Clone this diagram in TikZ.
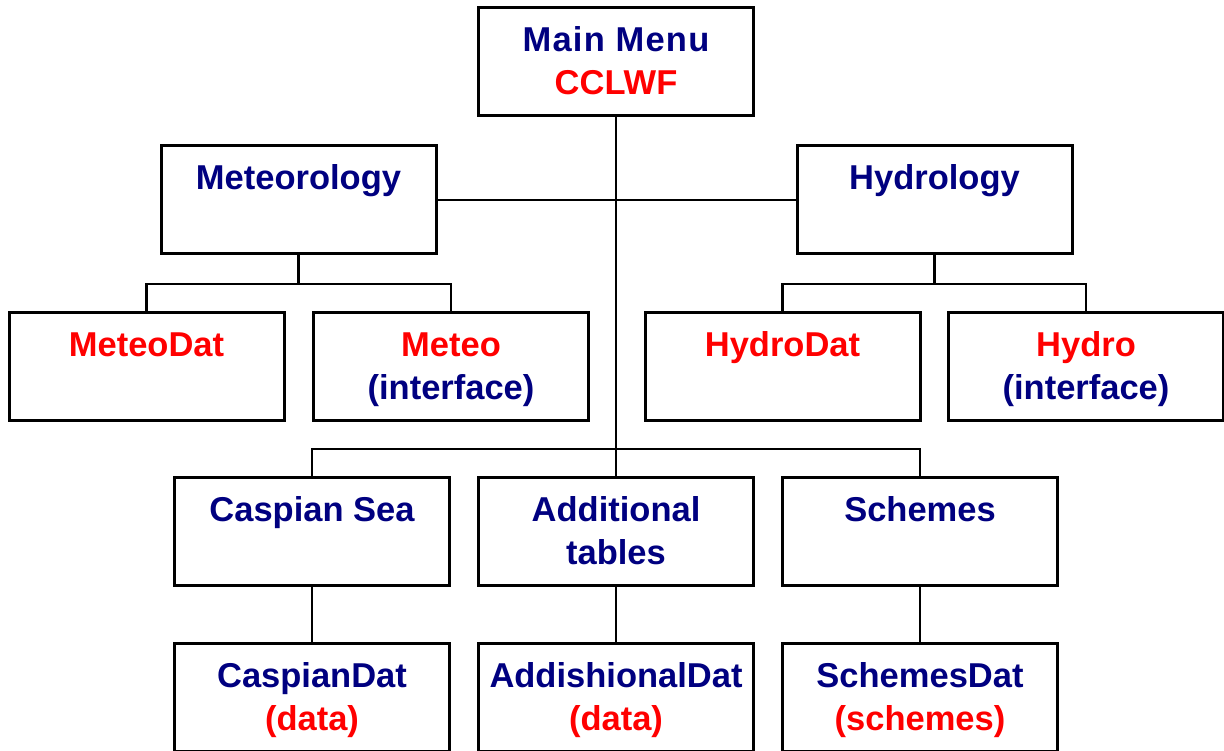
\documentclass[tikz,border=0pt]{standalone}
\usepackage{fontspec}
\setmainfont{Liberation Sans}
\definecolor{navyt}{RGB}{0,0,128}
\definecolor{redt}{RGB}{255,0,0}
\tikzset{
  box/.style={draw=black, line width=3pt, minimum width=275pt, minimum height=108pt, inner sep=0pt},
  conn/.style={draw=black, line width=2.4pt},
  txt/.style={anchor=base, inner sep=0pt, font=\fontsize{34.5}{43}\selectfont\bfseries},
  nv/.style={txt, text=navyt},
  rd/.style={txt, text=redt}
}
\begin{document}
\begin{tikzpicture}[x=1pt,y=-1pt]
\useasboundingbox (0,0) rectangle (1224,751);
\clip (0,0) rectangle (1224,751);
% boxes
\node[box] (main) at (616,62) {};
\node[box] (met) at (298.5,200) {};
\node[box] (hyd) at (934.5,200) {};
\node[box] (md) at (146.5,366.5) {};
\node[box] (mi) at (451,366.5) {};
\node[box] (hd) at (782.5,366.5) {};
\node[box] (hi) at (1086,366.5) {};
\node[box] (cas) at (312,531.5) {};
\node[box] (add) at (616,531.5) {};
\node[box] (sch) at (920,531.5) {};
\node[box] (casd) at (312,697) {};
\node[box] (addd) at (616,697) {};
\node[box] (schd) at (920,697) {};
% junction coordinates
\coordinate (mj) at (298.5,284);
\coordinate (hj) at (934.5,284);
\coordinate (bj) at (616,449);
% connectors
\draw[conn] (main.south) -- (add.north);
\draw[conn] (met.east) -- (hyd.west);
\draw[conn] (met.south) -- (mj);
\draw[conn] (md.north) |- (mj) -| (mi.north);
\draw[conn] (hyd.south) -- (hj);
\draw[conn] (hd.north) |- (hj) -| (hi.north);
\draw[conn] (cas.north) |- (bj) -| (sch.north);
\draw[conn] (cas.south) -- (casd.north);
\draw[conn] (add.south) -- (addd.north);
\draw[conn] (sch.south) -- (schd.north);
% texts
\node[nv] (t1) at ([yshift=-45.5pt]main.north) {\addfontfeature{LetterSpace=3.5}Main Menu};
\node[rd] (t2) at ([yshift=-88.5pt]main.north) {CCLWF};
\node[nv] (t3) at ([yshift=-45.5pt]met.north) {Meteorology};
\node[nv] (t4) at ([yshift=-45.5pt]hyd.north) {Hydrology};
\node[rd] (t5) at ([yshift=-45.5pt]md.north) {MeteoDat};
\node[rd] (t6) at ([yshift=-45.5pt]mi.north) {Meteo};
\node[nv] (t7) at ([yshift=-88.5pt]mi.north) {(interface)};
\node[rd] (t8) at ([yshift=-45.5pt]hd.north) {HydroDat};
\node[rd] (t9) at ([yshift=-45.5pt]hi.north) {Hydro};
\node[nv] (t10) at ([yshift=-88.5pt]hi.north) {(interface)};
\node[nv] (t11) at ([yshift=-45.5pt]cas.north) {Caspian Sea};
\node[nv] (t12) at ([yshift=-45.5pt]add.north) {Additional};
\node[nv] (t13) at ([yshift=-88.5pt]add.north) {tables};
\node[nv] (t14) at ([yshift=-45.5pt]sch.north) {Schemes};
\node[nv] (t15) at ([yshift=-45.5pt]casd.north) {CaspianDat};
\node[rd] (t16) at ([yshift=-88.5pt]casd.north) {(data)};
\node[nv] (t17) at ([yshift=-45.5pt]addd.north) {AddishionalDat};
\node[rd] (t18) at ([yshift=-88.5pt]addd.north) {(data)};
\node[nv] (t19) at ([yshift=-45.5pt]schd.north) {SchemesDat};
\node[rd] (t20) at ([yshift=-88.5pt]schd.north) {(schemes)};
\end{tikzpicture}
\end{document}
